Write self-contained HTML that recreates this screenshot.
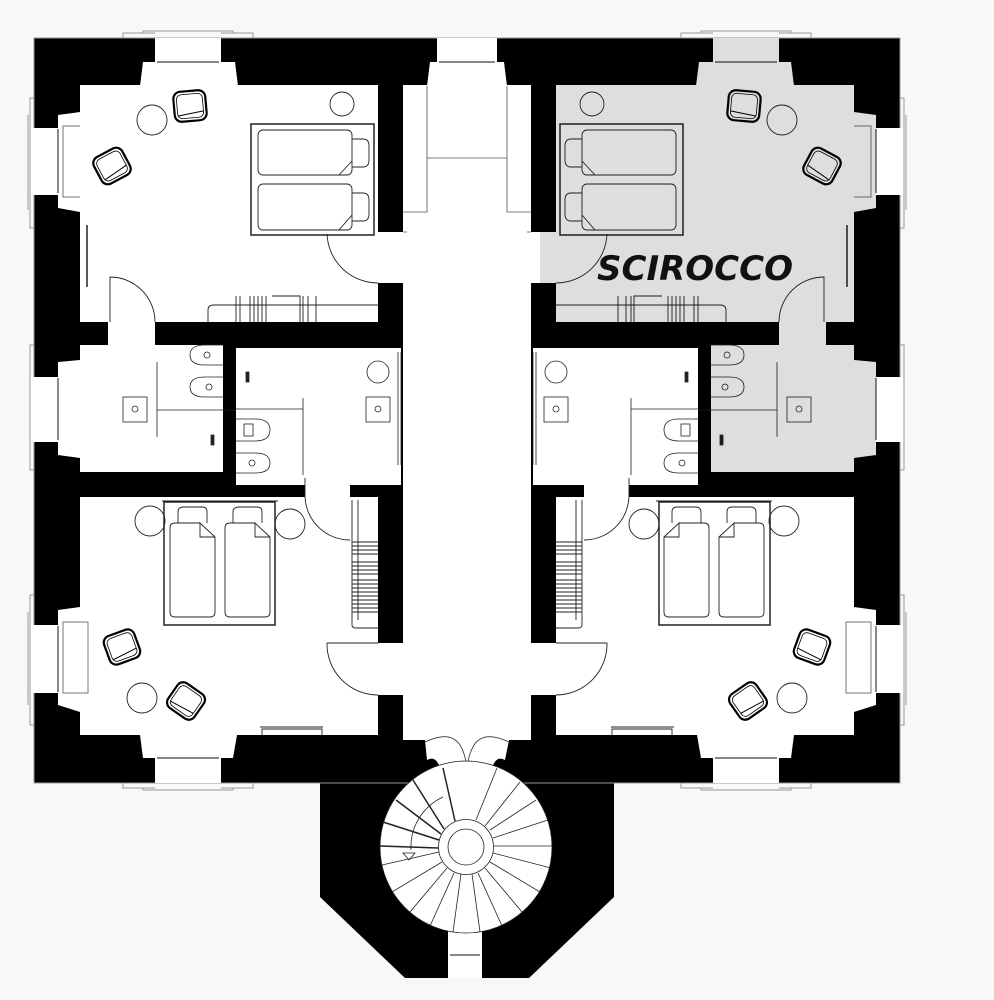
<!DOCTYPE html>
<html><head><meta charset="utf-8"><style>
html,body{margin:0;padding:0;background:#f8f8f8;}
svg{display:block}
</style></head><body>
<svg width="994" height="1000" viewBox="0 0 994 1000" xmlns="http://www.w3.org/2000/svg">
<defs>
<g id="chair">
  <rect x="-16" y="-15" width="32" height="30" rx="7" fill="#fff" stroke="#000" stroke-width="2.2"/>
  <rect x="-13" y="-12" width="26" height="24" rx="5" fill="none" stroke="#000" stroke-width="0.8"/>
  <path d="M-13,9 L13,6" stroke="#000" stroke-width="1" fill="none"/>
</g>
<g id="half">
  <rect x="155" y="38" width="66" height="25" fill="#fff"/>
  <polygon points="143,62 235,62 238,86 140,86" fill="#fff"/>
  <line x1="157" y1="62" x2="219" y2="62" stroke="#888" stroke-width="2"/>
  <path d="M123,38 V33 H155 M221,33 H253 V38 M143,33 V31 H233 V33" fill="none" stroke="#999" stroke-width="1"/>
  <g id="lw">
    <rect x="30" y="128" width="29" height="67" fill="#fff"/>
    <polygon points="58,115 80,112 80,212 58,208" fill="#fff"/>
    <line x1="58" y1="129" x2="58" y2="193" stroke="#888" stroke-width="2"/>
    <path d="M34,98 H30 V228 H34 M28,115 V210" fill="none" stroke="#999" stroke-width="1"/>
    <rect x="63" y="126" width="25" height="71" fill="#fff" stroke="#555" stroke-width="0.8"/>
  </g>
  <rect x="80" y="85" width="298" height="237" fill="#fff"/>
  <rect x="377" y="232" width="28" height="51" fill="#fff"/>
  <rect x="108" y="276" width="47" height="70" fill="#fff"/>
  <rect x="80" y="345" width="143" height="127" fill="#fff"/>
  <rect x="30" y="377" width="29" height="65" fill="#fff"/>
  <polygon points="58,362 80,360 80,458 58,455" fill="#fff"/>
  <line x1="58" y1="378" x2="58" y2="440" stroke="#888" stroke-width="2"/>
  <path d="M34,345 H30 V470 H34" fill="none" stroke="#999" stroke-width="1"/>
  <rect x="236" y="348" width="165" height="137" fill="#fff"/>
  <rect x="305" y="470" width="45" height="30" fill="#fff"/>
  <rect x="80" y="497" width="298" height="238" fill="#fff"/>
  <rect x="377" y="643" width="28" height="52" fill="#fff"/>
  <rect x="30" y="625" width="29" height="68" fill="#fff"/>
  <polygon points="58,610 80,607 80,712 58,705" fill="#fff"/>
  <line x1="58" y1="626" x2="58" y2="692" stroke="#888" stroke-width="2"/>
  <path d="M34,595 H30 V725 H34 M28,612 V705" fill="none" stroke="#999" stroke-width="1"/>
  <rect x="63" y="622" width="25" height="71" fill="#fff" stroke="#555" stroke-width="0.8"/>
  <rect x="155" y="755" width="66" height="28" fill="#fff"/>
  <polygon points="140,735 237,735 233,758 143,758" fill="#fff"/>
  <line x1="157" y1="758" x2="219" y2="758" stroke="#888" stroke-width="2"/>
  <path d="M123,783 V788 H155 M221,788 H253 V783 M143,788 V790 H233 V788" fill="none" stroke="#999" stroke-width="1"/>
  <rect x="403" y="85" width="65" height="650" fill="#fff"/>
  <rect x="437" y="38" width="31" height="25" fill="#fff"/>
  <polygon points="430,62 468,62 468,86 427,86" fill="#fff"/>
  <line x1="439" y1="62" x2="468" y2="62" stroke="#888" stroke-width="2"/>
  <path d="M427,86 V212 H403 M403,232 H407" fill="none" stroke="#555" stroke-width="0.8"/>
  <line x1="427" y1="158" x2="468" y2="158" stroke="#555" stroke-width="0.8"/>
  <g fill="none" stroke="#222" stroke-width="0.9">
    <rect x="251" y="124" width="123" height="111" stroke-width="1.5" fill="#fff"/>
    <rect x="258" y="130" width="94" height="45" rx="5"/>
    <rect x="258" y="184" width="94" height="46" rx="5"/>
    <path d="M352,139 H363 Q369,139 369,146 V160 Q369,167 363,167 H352"/>
    <path d="M352,193 H363 Q369,193 369,200 V214 Q369,221 363,221 H352"/>
    <path d="M352,161 L339,175 M352,215 L339,230"/>
    <circle cx="152" cy="120" r="15"/>
    <circle cx="342" cy="104" r="12"/>
    <line x1="87" y1="225" x2="87" y2="287" stroke-width="1.5"/>
    <path d="M327,234 A51,51 0 0 0 378,283"/>
    <path d="M110,322 V277 A45,45 0 0 1 155,322"/>
    <path d="M208,322 V310 Q208,305 214,305 H378"/>
    <path d="M236,296 V322 M240,296 V322 M250,296 V322 M254,296 V322 M258,296 V322 M262,296 V322 M266,296 V322 M303,296 V322 M308,296 V322 M316,296 V322 M272,296 H300 V322"/>
  </g>
  <use href="#chair" transform="translate(190,106) rotate(-5)"/>
  <use href="#chair" transform="translate(112,166) rotate(-28)"/>
  <g fill="none" stroke="#222" stroke-width="0.8">
    <path d="M157,362 V437 M157,410 H236"/>
    <rect x="123" y="397" width="24" height="25"/><circle cx="135" cy="409" r="3"/>
    <path d="M223,345 H205 Q190,345 190,355 Q190,365 205,365 H223"/><circle cx="207" cy="355" r="3"/>
    <path d="M223,377 H205 Q190,377 190,387 Q190,397 205,397 H223"/><circle cx="209" cy="387" r="3"/>
    <rect x="211" y="435" width="3" height="10" fill="#222"/>
    <rect x="246" y="372" width="3" height="10" fill="#222"/>
    <path d="M236,409 H303 M303,398 V475"/>
    <path d="M236,419 H255 Q270,419 270,430 Q270,441 255,441 H236"/><rect x="244" y="424" width="9" height="12"/>
    <path d="M236,453 H255 Q270,453 270,463 Q270,473 255,473 H236"/><circle cx="252" cy="463" r="3"/>
    <circle cx="378" cy="372" r="11"/>
    <rect x="366" y="397" width="24" height="25"/><circle cx="378" cy="409" r="3"/>
    <path d="M398,352 V465 M401,352 V465"/>
  </g>
  <g fill="none" stroke="#222" stroke-width="0.9">
    <rect x="164" y="502" width="111" height="123" stroke-width="1.5" fill="#fff"/>
    <path d="M162,501 H278"/>
    <path d="M178,523 V512 Q178,507 184,507 H202 Q207,507 207,512 V523"/>
    <path d="M233,523 V512 Q233,507 239,507 H257 Q262,507 262,512 V523"/>
    <path d="M200,523 H175 Q170,523 170,528 V612 Q170,617 175,617 H210 Q215,617 215,612 V537 L200,523 V537 H215"/>
    <path d="M255,523 H230 Q225,523 225,528 V612 Q225,617 230,617 H265 Q270,617 270,612 V537 L255,523 V537 H270"/>
    <circle cx="150" cy="521" r="15"/>
    <circle cx="290" cy="524" r="15"/>
    <circle cx="142" cy="698" r="15"/>
    <path d="M305,497 V478 M305,497 A45,45 0 0 0 350,540"/>
    <path d="M327,643 H378 M327,643 A51,51 0 0 0 378,695"/>
    <path d="M262,735 V729 H322 V735 M260,727 H323"/>
    <path d="M352,500 V625 Q352,628 356,628 H378 M358,500 V620"/>
    <path d="M352,542 H378 M352,546 H378 M352,550 H378 M352,554 H378 M352,562 H378 M352,566 H378 M352,570 H378 M352,574 H378 M352,580 H378 M352,584 H378 M352,588 H378 M352,592 H378 M352,596 H378 M352,600 H378 M352,604 H378 M352,608 H378 M352,612 H378" stroke-width="1"/>
  </g>
  <use href="#chair" transform="translate(122,647) rotate(-20)"/>
  <use href="#chair" transform="translate(186,701) rotate(35)"/>
</g>
</defs>

<rect x="34" y="38" width="866" height="745" fill="#000"/>
<polygon points="320,780 320,897 405,978 529,978 614,897 614,780" fill="#000"/>
<rect x="34" y="38" width="866" height="745" fill="none" stroke="#999" stroke-width="1"/>

<use href="#half"/>
<use href="#half" transform="translate(934,0) scale(-1,1)"/>

<path d="M425,740 H509 L505,760 Q496,755 492,768 V800 H440 V768 Q436,755 427,760 Z" fill="#fff"/>
<rect x="403" y="730" width="128" height="10" fill="#fff"/>
<path d="M425,742 Q450,730 460,745 Q466,755 467,770 Q468,755 474,745 Q484,730 509,742" fill="none" stroke="#333" stroke-width="0.8"/>
<circle cx="466" cy="847" r="86" fill="#fff"/>
<rect x="448" y="925" width="34" height="53" fill="#fff"/>
<line x1="450" y1="955" x2="480" y2="955" stroke="#888" stroke-width="2"/>
<g stroke="#222" stroke-width="0.8" fill="none">
  <circle cx="466" cy="847" r="86"/>
  <circle cx="466" cy="847" r="27.5"/>
  <circle cx="466" cy="847" r="18"/>
</g>
<g stroke="#222" stroke-width="0.8">
  <line x1="443" y1="768" x2="455" y2="821" stroke-width="1.5"/>
  <line x1="413" y1="780" x2="444" y2="829" stroke-width="1.5"/>
  <line x1="396" y1="800" x2="441" y2="834" stroke-width="1.5"/>
  <line x1="383" y1="822" x2="439" y2="840" stroke-width="1.5"/>
  <line x1="380" y1="846" x2="438" y2="848" stroke-width="1.5"/>
  <line x1="382" y1="865" x2="439" y2="852"/>
  <line x1="392" y1="892" x2="442" y2="862"/>
  <line x1="410" y1="912" x2="447" y2="868"/>
  <line x1="430" y1="926" x2="454" y2="873"/>
  <line x1="453" y1="932" x2="461" y2="874"/>
  <line x1="480" y1="932" x2="472" y2="874"/>
  <line x1="502" y1="926" x2="478" y2="873"/>
  <line x1="522" y1="912" x2="485" y2="868"/>
  <line x1="540" y1="892" x2="490" y2="862"/>
  <line x1="551" y1="868" x2="493" y2="853"/>
  <line x1="552" y1="846" x2="494" y2="846"/>
  <line x1="548" y1="820" x2="493" y2="838"/>
  <line x1="536" y1="800" x2="490" y2="830"/>
  <line x1="520" y1="782" x2="485" y2="826"/>
  <line x1="497" y1="768" x2="476" y2="820"/>
  <path d="M443,797 A55,55 0 0 0 411,850" fill="none"/>
  <path d="M403,853 L415,853 L409,860 Z" fill="none"/>
</g>

<g style="mix-blend-mode:multiply" fill="#dedede">
  <rect x="556" y="85" width="298" height="237"/>
  <rect x="540" y="232" width="18" height="51"/>
  <polygon points="699,62 791,62 794,86 696,86"/>
  <rect x="713" y="38" width="66" height="25"/>
  <polygon points="854,112 876,115 876,208 854,212"/>
  <rect x="779" y="276" width="47" height="70"/>
  <rect x="711" y="345" width="143" height="127"/>
  <polygon points="854,360 876,362 876,455 854,458"/>
</g>
<text x="597" y="280" font-family="'DejaVu Sans','Liberation Sans',sans-serif" font-weight="bold" font-style="italic" font-size="34" fill="#111">SCIROCCO</text>
</svg>
</body></html>
